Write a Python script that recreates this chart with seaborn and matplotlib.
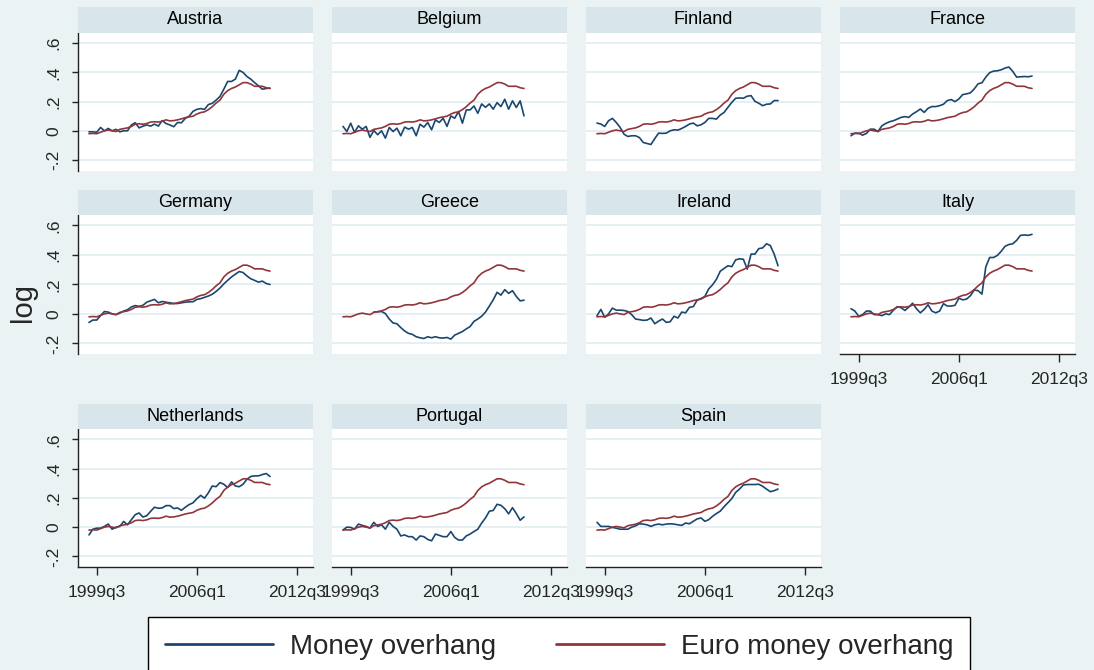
import numpy as np
import pandas as pd
import matplotlib
matplotlib.use("Agg")
import matplotlib.pyplot as plt
import seaborn as sns
from matplotlib.lines import Line2D

# ---------------- data ----------------
quarters = pd.period_range("1999Q1", periods=48, freq="Q")
t = [p.year + (p.quarter - 1) / 4 for p in quarters]

xtick_pos = [1999.5, 2006.0, 2012.5]
xtick_labels = ["1999q3", "2006q1", "2012q3"]
ytick_pos = [-0.2, 0.0, 0.2, 0.4, 0.6]
ytick_labels = ["-.2", "0", ".2", ".4", ".6"]

countries = ["Austria", "Belgium", "Finland", "France", "Germany", "Greece",
             "Ireland", "Italy", "Netherlands", "Portugal", "Spain"]

euro = [-0.020, -0.018, -0.020, -0.010, 0.000, 0.005, 0.000, -0.005, 0.010, 0.015,
        0.020, 0.030, 0.045, 0.048, 0.045, 0.050, 0.060, 0.062, 0.060, 0.065,
        0.075, 0.068, 0.070, 0.075, 0.082, 0.090, 0.095, 0.100, 0.115, 0.125,
        0.130, 0.145, 0.165, 0.190, 0.210, 0.250, 0.275, 0.290, 0.300, 0.315,
        0.330, 0.330, 0.320, 0.305, 0.305, 0.305, 0.295, 0.290]

austria = [-0.007, -0.007, -0.010, 0.023, 0.000, 0.016, 0.000, 0.010, -0.007, 0.000,
           0.000, 0.040, 0.055, 0.020, 0.032, 0.040, 0.032, 0.046, 0.032, 0.070,
           0.050, 0.040, 0.028, 0.057, 0.055, 0.085, 0.100, 0.133, 0.147, 0.152,
           0.147, 0.180, 0.188, 0.210, 0.235, 0.285, 0.338, 0.338, 0.354, 0.414,
           0.400, 0.372, 0.354, 0.330, 0.308, 0.285, 0.290, 0.292]

belgium = [0.030, -0.005, 0.052, -0.011, 0.034, 0.011, 0.030, -0.045, 0.002, -0.027,
           0.000, -0.050, 0.023, -0.005, 0.018, -0.034, 0.025, 0.011, 0.023, -0.034,
           0.045, 0.025, 0.057, 0.007, 0.075, 0.057, 0.086, 0.030, 0.102, 0.086,
           0.132, 0.052, 0.143, 0.143, 0.170, 0.120, 0.184, 0.161, 0.184, 0.148,
           0.193, 0.166, 0.216, 0.148, 0.205, 0.160, 0.205, 0.102]

finland = [0.053, 0.046, 0.030, 0.069, 0.085, 0.057, 0.023, -0.023, -0.039, -0.034,
           -0.034, -0.046, -0.080, -0.087, -0.094, -0.053, -0.016, -0.018, -0.016, 0.000,
           0.007, 0.005, 0.016, 0.030, 0.046, 0.053, 0.034, 0.041, 0.057, 0.085,
           0.085, 0.080, 0.108, 0.126, 0.161, 0.195, 0.223, 0.225, 0.223, 0.237,
           0.241, 0.202, 0.189, 0.172, 0.182, 0.184, 0.207, 0.207]

france = [-0.034, -0.016, -0.016, -0.030, -0.018, 0.011, 0.011, -0.005, 0.034, 0.050,
          0.062, 0.069, 0.080, 0.092, 0.097, 0.092, 0.115, 0.131, 0.149, 0.126,
          0.154, 0.166, 0.166, 0.172, 0.182, 0.207, 0.214, 0.200, 0.218, 0.248,
          0.253, 0.260, 0.287, 0.322, 0.329, 0.368, 0.398, 0.409, 0.411, 0.418,
          0.430, 0.437, 0.407, 0.368, 0.370, 0.372, 0.370, 0.375]

germany = [-0.058, -0.042, -0.042, -0.012, 0.016, 0.012, 0.000, -0.005, 0.005, 0.019,
           0.028, 0.047, 0.056, 0.051, 0.058, 0.079, 0.089, 0.098, 0.075, 0.084,
           0.079, 0.075, 0.070, 0.070, 0.075, 0.079, 0.082, 0.082, 0.098, 0.103,
           0.112, 0.121, 0.133, 0.152, 0.175, 0.203, 0.227, 0.250, 0.269, 0.287,
           0.280, 0.257, 0.238, 0.227, 0.215, 0.222, 0.206, 0.199]

greece = [np.nan, np.nan, np.nan, np.nan, np.nan, np.nan, np.nan, np.nan, 0.012, 0.014,
          0.016, 0.002, -0.035, -0.062, -0.067, -0.093, -0.116, -0.132, -0.139, -0.155,
          -0.162, -0.167, -0.155, -0.162, -0.155, -0.162, -0.164, -0.160, -0.171, -0.144,
          -0.132, -0.120, -0.102, -0.086, -0.051, -0.035, -0.016, 0.012, 0.053, 0.095,
          0.146, 0.127, 0.164, 0.139, 0.157, 0.118, 0.088, 0.093]

ireland = [-0.012, 0.030, -0.023, 0.000, 0.039, 0.025, 0.025, 0.023, 0.016, -0.005,
           -0.035, -0.039, -0.044, -0.042, -0.028, -0.067, -0.049, -0.035, -0.058, -0.053,
           -0.016, -0.028, 0.012, 0.007, 0.044, 0.049, 0.093, 0.104, 0.118, 0.169,
           0.197, 0.234, 0.289, 0.308, 0.326, 0.320, 0.366, 0.373, 0.370, 0.303,
           0.405, 0.405, 0.442, 0.447, 0.475, 0.463, 0.405, 0.326]

italy = [0.035, 0.019, -0.016, -0.005, 0.019, 0.019, -0.005, -0.005, -0.012, 0.000,
         -0.005, 0.025, 0.049, 0.042, 0.023, 0.046, 0.072, 0.035, 0.007, 0.030,
         0.062, 0.019, 0.007, 0.019, 0.069, 0.053, 0.053, 0.058, 0.106, 0.095,
         0.100, 0.123, 0.162, 0.157, 0.134, 0.319, 0.382, 0.382, 0.396, 0.424,
         0.458, 0.470, 0.475, 0.498, 0.532, 0.535, 0.532, 0.539]

netherlands = [-0.053, -0.014, -0.007, -0.007, 0.005, 0.021, -0.014, 0.000, 0.005, 0.039,
               0.016, 0.051, 0.085, 0.097, 0.069, 0.078, 0.108, 0.136, 0.129, 0.131,
               0.147, 0.147, 0.127, 0.131, 0.115, 0.136, 0.154, 0.166, 0.194, 0.217,
               0.198, 0.235, 0.281, 0.276, 0.304, 0.293, 0.270, 0.309, 0.281, 0.276,
               0.293, 0.327, 0.346, 0.350, 0.350, 0.359, 0.366, 0.346]

portugal = [-0.019, 0.000, -0.002, -0.014, 0.021, 0.012, 0.005, -0.007, 0.033, 0.005,
            0.016, -0.014, 0.033, 0.005, -0.014, -0.060, -0.053, -0.065, -0.065, -0.088,
            -0.060, -0.065, -0.084, -0.093, -0.047, -0.056, -0.065, -0.065, -0.030, -0.070,
            -0.088, -0.088, -0.060, -0.047, -0.030, -0.014, 0.028, 0.063, 0.109, 0.114,
            0.156, 0.149, 0.126, 0.091, 0.133, 0.093, 0.047, 0.070]

spain = [0.033, 0.005, 0.005, 0.005, -0.002, -0.007, -0.014, -0.014, -0.014, 0.000,
         0.009, 0.023, 0.021, 0.016, 0.005, 0.016, 0.021, 0.016, 0.021, 0.023,
         0.021, 0.016, 0.012, 0.028, 0.023, 0.040, 0.056, 0.063, 0.040, 0.051,
         0.074, 0.093, 0.109, 0.140, 0.167, 0.195, 0.237, 0.260, 0.288, 0.291,
         0.291, 0.291, 0.293, 0.279, 0.260, 0.242, 0.249, 0.260]

money = {"Austria": austria, "Belgium": belgium, "Finland": finland, "France": france,
         "Germany": germany, "Greece": greece, "Ireland": ireland, "Italy": italy,
         "Netherlands": netherlands, "Portugal": portugal, "Spain": spain}

series_names = ["Money overhang", "Euro money overhang"]

rows = []
for c in countries:
    for ti, m, e in zip(t, money[c], euro):
        rows.append((c, ti, series_names[0], m))
        rows.append((c, ti, series_names[1], e))
df = pd.DataFrame(rows, columns=["country", "t", "series", "value"])

# ---------------- style ----------------
BG = "#eaf2f3"
STRIP = "#d8e5ea"
GRID = "#e6eff1"
BLUE = "#1a476f"
RED = "#90353b"

sns.set_style("white")
plt.rcParams["font.family"] = ["Liberation Sans", "DejaVu Sans"]

W, H = 1094, 670
fig = plt.figure(figsize=(W / 100, H / 100), dpi=100, facecolor=BG)

lefts = [78, 332, 586, 840]
pw = 235
strip_tops = [7, 190, 404]
plot_tops = [33, 215, 429]
plot_bots = [170.5, 354, 567]
bottom_panels = {"Italy", "Netherlands", "Portugal", "Spain"}

for i, c in enumerate(countries):
    r, col = divmod(i, 4)
    ax = fig.add_axes([lefts[col] / W, 1 - plot_bots[r] / H, pw / W,
                       (plot_bots[r] - plot_tops[r]) / H])
    sax = fig.add_axes([lefts[col] / W, 1 - plot_tops[r] / H, pw / W,
                        (plot_tops[r] - strip_tops[r]) / H])
    sax.set_facecolor(STRIP)
    sax.set_xticks([]); sax.set_yticks([])
    for s in sax.spines.values():
        s.set_visible(False)
    sax.text(0.5, 0.5, c, ha="center", va="center", fontsize=13, color="black")

    ax.set_facecolor("white")
    sub = df[df["country"] == c]
    sns.lineplot(data=sub, x="t", y="value", hue="series", hue_order=series_names,
                 palette=[BLUE, RED], legend=False, ax=ax, lw=1.2,
                 estimator=None, errorbar=None)
    ax.set_xlabel(""); ax.set_ylabel("")
    ax.set_xlim(1998.285, 2013.54)
    ax.set_ylim(-0.272, 0.67)
    ax.set_yticks(ytick_pos)
    ax.set_xticks(xtick_pos)
    ax.grid(False)
    ax.grid(axis="y", color=GRID, lw=1.4)
    ax.set_axisbelow(True)
    for s in ax.spines.values():
        s.set_visible(False)
    if col == 0:
        ax.spines["left"].set_visible(True)
        ax.spines["left"].set_color("#222222")
        ax.spines["left"].set_linewidth(1.0)
        ax.set_yticklabels(ytick_labels, rotation=90, va="center")
        ax.tick_params(axis="y", left=True, length=4, width=1, pad=8,
                       labelsize=12.5, color="#222222")
    else:
        ax.tick_params(axis="y", left=False, labelleft=False)
    if c in bottom_panels:
        ax.spines["bottom"].set_visible(True)
        ax.spines["bottom"].set_color("#222222")
        ax.spines["bottom"].set_linewidth(1.0)
        ax.set_xticklabels(xtick_labels)
        ax.tick_params(axis="x", bottom=True, length=6, width=1, pad=7,
                       labelsize=12.5, color="#222222")
    else:
        ax.tick_params(axis="x", bottom=False, labelbottom=False)

fig.text(23 / W, 1 - 302 / H, "log", rotation=90, fontsize=21,
         ha="center", va="center")

handles = [Line2D([], [], color=BLUE, lw=2), Line2D([], [], color=RED, lw=2)]
leg = fig.legend(handles, series_names, loc="upper left",
                 bbox_to_anchor=(148 / W, 0, 822 / W, 1 - 617 / H),
                 mode="expand", ncol=2, fontsize=20, frameon=True, fancybox=False,
                 edgecolor="black", facecolor="white", framealpha=1,
                 handlelength=3.9, handletextpad=0.6, borderpad=0.6,
                 borderaxespad=0)
leg.get_frame().set_linewidth(1.0)

fig.savefig("out.png", dpi=100, facecolor=BG)
